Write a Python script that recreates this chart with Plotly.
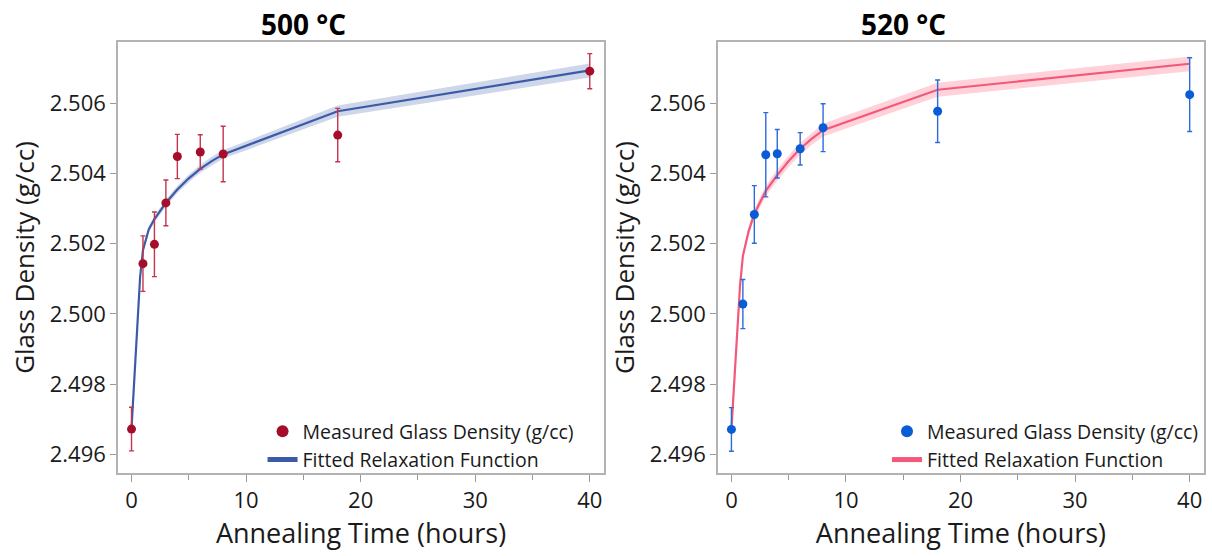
import plotly.graph_objects as go
from plotly.subplots import make_subplots

# Annealing times of the measured samples (hours)
time_h = [0, 1, 2, 3, 4, 6, 8, 18, 40]

# Measured glass density at 500 °C and its uncertainty (g/cc)
dens_500 = [2.49672, 2.50143, 2.50198, 2.50316, 2.50448, 2.50461, 2.50455, 2.50509, 2.50691]
err_500 = [0.00062, 0.00079, 0.00092, 0.00065, 0.00063, 0.00049, 0.00079, 0.00076, 0.00050]

# Measured glass density at 520 °C and its uncertainty (g/cc)
dens_520 = [2.49671, 2.50028, 2.50283, 2.50453, 2.50456, 2.50470, 2.50530, 2.50577, 2.50624]
err_520 = [0.00062, 0.00070, 0.00082, 0.00120, 0.00069, 0.00046, 0.00068, 0.00089, 0.00105]

# Fitted relaxation function with its confidence half-width
fit_time = [0, 0.25, 0.5, 0.75, 1, 1.5, 2, 3, 4, 5, 6, 7, 8, 18, 40]
fit_500 = [2.49674, 2.49828, 2.49975, 2.50105, 2.50181, 2.50240, 2.50270, 2.50316,
           2.50354, 2.50386, 2.50413, 2.50435, 2.50454, 2.50577, 2.50693]
band_500 = [0.00003, 0.00005, 0.00006, 0.00007, 0.00008, 0.00009, 0.00009, 0.00010,
            0.00010, 0.00011, 0.00011, 0.00012, 0.00012, 0.00016, 0.00020]
fit_520 = [2.49672, 2.49815, 2.49935, 2.50080, 2.50165, 2.50235, 2.50285, 2.50350,
           2.50395, 2.50435, 2.50470, 2.50498, 2.50523, 2.50638, 2.50712]
band_520 = [0.00003, 0.00005, 0.00007, 0.00009, 0.00010, 0.00012, 0.00013, 0.00015,
            0.00016, 0.00016, 0.00017, 0.00017, 0.00018, 0.00020, 0.00021]

titles = ["500 °C", "520 °C"]
y_ticks = [2.496, 2.498, 2.500, 2.502, 2.504, 2.506]
x_ticks = [0, 10, 20, 30, 40]

FONT = "Segoe UI, Open Sans, sans-serif"

panels = [
    dict(dens=dens_500, err=err_500, fit=fit_500, band=band_500,
         mcolor="#a50d2b", ecolor="#c4354d", lcolor="#3d5aa8",
         fill="rgba(61,90,168,0.25)", legend="legend"),
    dict(dens=dens_520, err=err_520, fit=fit_520, band=band_520,
         mcolor="#0a5bd6", ecolor="#2d6bd9", lcolor="#f4577a",
         fill="rgba(255,140,160,0.40)", legend="legend2"),
]

fig = make_subplots(rows=1, cols=2, horizontal_spacing=0.1048)

for i, p in enumerate(panels, start=1):
    upper = [f + b for f, b in zip(p["fit"], p["band"])]
    lower = [f - b for f, b in zip(p["fit"], p["band"])]
    fig.add_trace(go.Scatter(x=fit_time, y=upper, mode="lines", line=dict(width=0),
                             showlegend=False, hoverinfo="skip"), row=1, col=i)
    fig.add_trace(go.Scatter(x=fit_time, y=lower, mode="lines", line=dict(width=0),
                             fill="tonexty", fillcolor=p["fill"],
                             showlegend=False, hoverinfo="skip"), row=1, col=i)
    fig.add_trace(go.Scatter(x=fit_time, y=p["fit"], mode="lines",
                             line=dict(color=p["lcolor"], width=2.2),
                             name="Fitted Relaxation Function",
                             legend=p["legend"], legendrank=2), row=1, col=i)
    fig.add_trace(go.Scatter(x=time_h, y=p["dens"], mode="markers",
                             marker=dict(color=p["mcolor"], size=9),
                             error_y=dict(type="data", array=p["err"], visible=True,
                                          color=p["ecolor"], thickness=1.4, width=2.5),
                             name="Measured Glass Density (g/cc)",
                             legend=p["legend"], legendrank=1), row=1, col=i)

axis_common = dict(showline=True, linecolor="#b3b3b3", linewidth=1.5, mirror=True,
                   showgrid=False, zeroline=False, ticks="outside", tickcolor="#9a9a9a",
                   tickfont=dict(family=FONT, size=22, color="#1a1a1a"))

for i in (1, 2):
    fig.update_xaxes(axis_common, range=[-1.18, 41.25], tickvals=x_ticks, ticklen=7,
                     minor=dict(dtick=5, ticks="outside", ticklen=5, tickcolor="#9a9a9a"),
                     title=dict(text="Annealing Time (hours)", standoff=10,
                                font=dict(family=FONT, size=27, color="#1a1a1a")),
                     row=1, col=i)
    fig.update_yaxes(axis_common, range=[2.49547, 2.50774], tickvals=y_ticks,
                     tickformat=".3f", ticklen=6,
                     title=dict(text="Glass Density (g/cc)", standoff=8,
                                font=dict(family=FONT, size=26, color="#1a1a1a")),
                     row=1, col=i)

for x, t in zip([0.171, 0.7233], titles):
    fig.add_annotation(text=f"<b>{t}</b>", x=x, y=1.042, xref="paper", yref="paper",
                       xanchor="center", yanchor="middle", showarrow=False,
                       font=dict(family=FONT, size=28, color="#000000"))

legend_style = dict(xanchor="right", yanchor="bottom", y=-0.014, bgcolor="rgba(0,0,0,0)",
                    font=dict(family=FONT, size=19.5, color="#1a1a1a"),
                    traceorder="normal", tracegroupgap=0, itemsizing="constant")

fig.update_layout(
    width=1212, height=556,
    margin=dict(l=118, r=6, t=42, b=83),
    paper_bgcolor="white", plot_bgcolor="white",
    font=dict(family=FONT, color="#1a1a1a"),
    legend=dict(legend_style, x=0.425),
    legend2=dict(legend_style, x=1.0),
)

fig.write_html("out.html")
